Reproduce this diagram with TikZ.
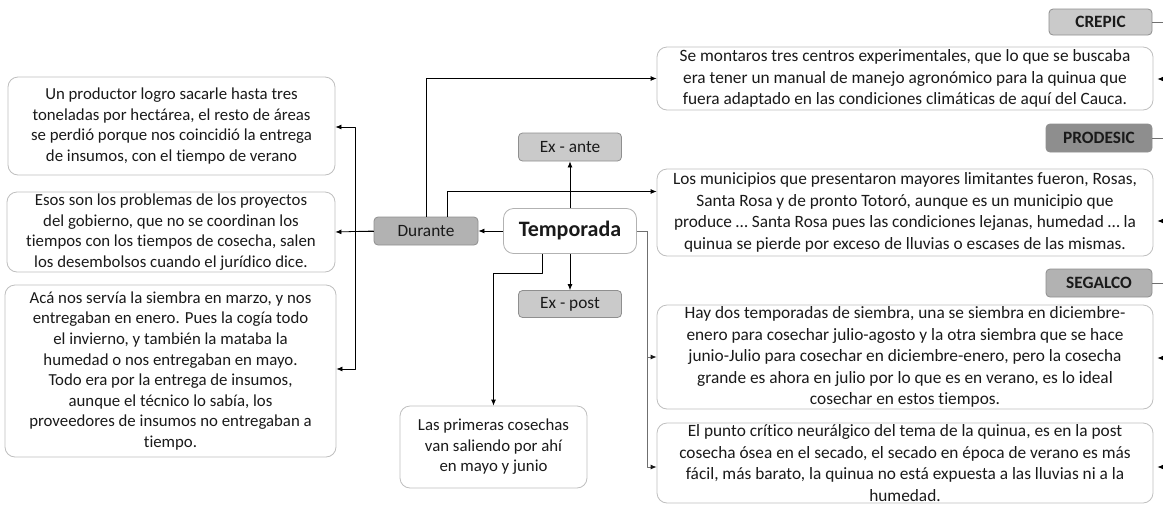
\documentclass[tikz,border=0pt]{standalone}
\usepackage{fontspec}
\setmainfont{Carlito}[Ligatures=NoCommon]
\usetikzlibrary{arrows.meta,shapes}
\definecolor{boxline}{HTML}{BFBFBF}
\definecolor{tagline}{HTML}{8F8F8F}
\definecolor{taglight}{HTML}{CACACA}
\definecolor{tagmid}{HTML}{B2B2B2}
\definecolor{tagdark}{HTML}{8E8E8E}
\definecolor{wire}{HTML}{6F6F6F}
\definecolor{ink}{HTML}{1A1A1A}
\tikzstyle{every picture}+=[>={Latex[length=6pt,width=5pt]}]
\tikzstyle{every picture}+=[line width=0.8pt]
\tikzstyle{every picture}+=[join=round]
\tikzstyle{every node}+=[text=ink]
\tikzstyle{quote}+=[draw=boxline, fill=white, rounded corners=10pt]
\tikzstyle{quote}+=[align=center, inner sep=0pt]
\tikzstyle{quote}+=[font=\fontsize{16.8}{20.6}\selectfont]
\tikzstyle{wide}+=[quote, font=\fontsize{17.3}{21.6}\selectfont]
\tikzstyle{tag}+=[draw=tagline, rounded corners=4pt]
\tikzstyle{tag}+=[align=center, inner sep=0pt]
\tikzstyle{tag}+=[font=\fontsize{17.3}{20}\selectfont]
\tikzstyle{org}+=[tag, font=\fontsize{17.3}{20}\selectfont\bfseries]

\begin{document}
\begin{tikzpicture}[x=1pt,y=-1pt]
\useasboundingbox (0,0) rectangle (1163,504);

\node[quote, draw=gray!60, minimum width=133, minimum height=45,
  font=\fontsize{22}{26}\selectfont\bfseries] (temp) at (570,231) {Temporada};
\node[tag, fill=taglight, minimum width=103, minimum height=28] (exante) at (570,147) {Ex - ante};
\node[tag, fill=taglight, minimum width=103, minimum height=27] (expost) at (570,304) {Ex - post};
\node[tag, fill=tagmid, minimum width=104, minimum height=28] (dur) at (426,231) {Durante};

\node[quote, minimum width=327, minimum height=98] (prod) at (171.5,126)
  {Un productor logro sacarle hasta tres\\
   toneladas por hectárea, el resto de áreas\\
   se perdió porque nos coincidió la entrega\\
   de insumos, con el tiempo de verano};
\node[quote, minimum width=328, minimum height=80] (desem) at (171,232)
  {Esos son los problemas de los proyectos\\
   del gobierno, que no se coordinan los\\
   tiempos con los tiempos de cosecha, salen\\
   los desembolsos cuando el jurídico dice.};
\node[quote, minimum width=331, minimum height=172] (marzo) at (170.5,371)
  {Acá nos servía la siembra en marzo, y nos\\
   entregaban en enero. Pues la cogía todo\\
   el invierno, y también la mataba la\\
   humedad o nos entregaban en mayo.\\
   Todo era por la entrega de insumos,\\
   aunque el técnico lo sabía, los\\
   proveedores de insumos no entregaban a\\
   tiempo.};
\node[quote, minimum width=187, minimum height=82] (cosechas) at (493.5,447)
  {Las primeras cosechas\\
   van saliendo por ahí\\
   en mayo y junio};

\node[org, fill=taglight, minimum width=103, minimum height=26] (crepic) at (1100.5,22) {CREPIC};
\node[wide, minimum width=496, minimum height=63] (montaron) at (905,78.5)
  {Se montaros tres centros experimentales, que lo que se buscaba\\
   era tener un manual de manejo agronómico para la quinua que\\
   fuera adaptado en las condiciones climáticas de aquí del Cauca.};
\node[org, fill=tagdark, minimum width=106, minimum height=28] (prodesic) at (1099,138) {PRODESIC};
\node[wide, minimum width=496, minimum height=87] (munic) at (905,212.5)
  {Los municipios que presentaron mayores limitantes fueron, Rosas,\\
   Santa Rosa y de pronto Totoró, aunque es un municipio que\\
   produce … Santa Rosa pues las condiciones lejanas, humedad … la\\
   quinua se pierde por exceso de lluvias o escases de las mismas.};
\node[org, fill=tagmid, minimum width=106, minimum height=28] (segalco) at (1099,283) {SEGALCO};
\node[wide, minimum width=496, minimum height=104] (siembra) at (905,357)
  {Hay dos temporadas de siembra, una se siembra en diciembre-\\
   enero para cosechar julio-agosto y la otra siembra que se hace\\
   junio-Julio para cosechar en diciembre-enero, pero la cosecha\\
   grande es ahora en julio por lo que es en verano, es lo ideal\\
   cosechar en estos tiempos.};
\node[wide, minimum width=496, minimum height=80] (critico) at (905,463)
  {El punto crítico neurálgico del tema de la quinua, es en la post\\
   cosecha ósea en el secado, el secado en época de verano es más\\
   fácil, más barato, la quinua no está expuesta a las lluvias ni a la\\
   humedad.};

% split points and free ends
\coordinate (dsplit) at (355,231);
\coordinate (tsplit) at (647,231);
\coordinate (out1) at (1163,22);
\coordinate (out2) at (1163,138);
\coordinate (out3) at (1163,283);
\coordinate (in1) at (1163,79);
\coordinate (in2) at (1163,221);
\coordinate (in3) at (1163,358);
\coordinate (in4) at (1163,467);

\path[->]
  (temp) edge (dur)
  (temp) edge (exante)
  (temp) edge (expost)
  (dur.west) edge (desem.east -| desem.east)
  ;
\draw[->] (dur.west) -- (dsplit) |- ([yshift=-1]prod.east);
\draw[->] (dsplit) |- ([yshift=2]marzo.east);
\draw[->] (dur.north) |- (montaron.west);
\draw[->] ([xshift=21]dur.north) |- ([yshift=21]munic.west);
\draw[->] ([xshift=-28]temp.south) -- ++(0,19) -| (cosechas.north);
\draw[draw=wire] (temp.east) -- (tsplit);
\draw[draw=wire,-{Latex[length=6pt,width=5pt,fill=ink,color=ink]}] (tsplit) |- (siembra.west);
\draw[draw=wire,-{Latex[length=6pt,width=5pt,fill=ink,color=ink]}] (tsplit) |- ([yshift=-4]critico.west);

\path[draw=wire]
  (crepic) edge (out1)
  (prodesic) edge (out2)
  (segalco) edge (out3)
  ;
\path[->, shorten >=4pt]
  (in1) edge (in1 -| montaron.east)
  (in2) edge (in2 -| munic.east)
  (in3) edge (in3 -| siembra.east)
  (in4) edge (in4 -| critico.east)
  ;
\end{tikzpicture}
\end{document}
